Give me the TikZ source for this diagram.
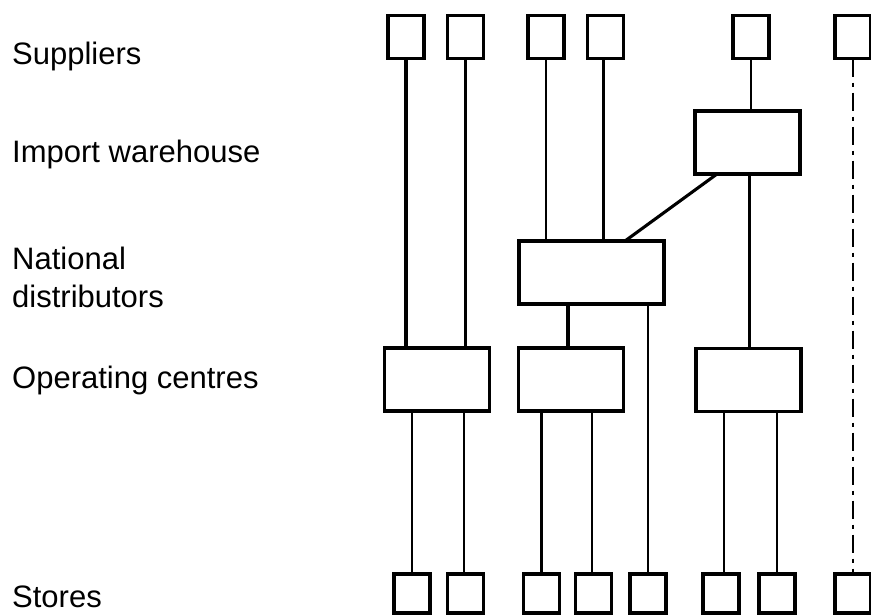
\documentclass[tikz,border=0pt]{standalone}
\usepackage{fontspec}
\setmainfont{Liberation Sans}
\begin{document}
\begin{tikzpicture}[x=1pt,y=-1pt,
  box/.style={draw=black,line width=3.4pt,rectangle,inner sep=0pt,outer sep=0pt},
  smallbox/.style={box,minimum width=36pt,minimum height=43pt},
  storebox/.style={box,minimum width=36pt,minimum height=39pt},
  bigbox/.style={box,minimum width=105pt,minimum height=63pt},
  conn/.style={line width=2.5pt},
  thickconn/.style={line width=3.1pt},
  thinconn/.style={line width=2pt},
  dashconn/.style={line width=2.4pt,dash pattern=on 18pt off 6pt on 4pt off 6pt},
  lbl/.style={anchor=base west,inner sep=0pt,font=\fontsize{31}{38}\selectfont}]
\useasboundingbox (0,0) rectangle (871,616);
% labels
\node[lbl] (lsup) at (12,64) {Suppliers};
\node[lbl] (limp) at (12,162) {Import warehouse};
\node[lbl] (lnat1) at (12,269) {National};
\node[lbl] (lnat2) at (12,307) {distributors};
\node[lbl] (lop) at (12,388) {Operating centres};
\node[lbl] (lst) at (12,607) {Stores};
% suppliers
\node[smallbox] (s1) at (406,37) {};
\node[smallbox] (s2) at (465.5,37) {};
\node[smallbox] (s3) at (546,37) {};
\node[smallbox] (s4) at (605.5,37) {};
\node[smallbox] (s5) at (751,37) {};
\node[smallbox] (s6) at (853,37) {};
% import warehouse
\node[box,minimum width=105pt,minimum height=63pt] (imp) at (747.5,142.5) {};
% national distributors
\node[box,minimum width=145pt,minimum height=63pt] (nat) at (591.5,272.5) {};
% operating centres
\node[bigbox] (opA) at (437,379.5) {};
\node[bigbox] (opB) at (571,379.5) {};
\node[bigbox] (opC) at (748.5,380) {};
% stores
\node[storebox] (t1) at (412,593.5) {};
\node[storebox] (t2) at (465.5,593.5) {};
\node[storebox] (t3) at (541.5,593.5) {};
\node[storebox] (t4) at (593.5,593.5) {};
\node[storebox] (t5) at (648,593.5) {};
\node[storebox] (t6) at (721,593.5) {};
\node[storebox] (t7) at (777,593.5) {};
\node[storebox] (t8) at (853,593.5) {};
% supplier connectors
\draw[thickconn] (s1.south) -- (s1.south |- opA.north);
\draw[thickconn] (s2.south) -- (s2.south |- opA.north);
\draw[thinconn] (s3.south) -- (s3.south |- nat.north);
\draw[conn] ([xshift=-2pt]s4.south) -- ([xshift=-2pt]s4.south |- nat.north);
\draw[thinconn] (s5.south) -- (s5.south |- imp.north);
\draw[dashconn] (s6.south) -- (s6.south |- t8.north);
% import warehouse connectors
\draw[thickconn] ([xshift=2pt]imp.south) -- ([xshift=2pt]imp.south |- opC.north);
\draw[thickconn] ([xshift=-30.5pt]imp.south) -- ([xshift=33.5pt]nat.north);
% national distributors connectors
\draw[thickconn] ([xshift=-3pt]opB.north |- nat.south) -- ([xshift=-3pt]opB.north);
\draw[conn] (t5.north |- nat.south) -- (t5.north);
% operating centre connectors
\draw[conn] (t1.north |- opA.south) -- (t1.north);
\draw[conn] ([xshift=-1.5pt]t2.north |- opA.south) -- ([xshift=-1.5pt]t2.north);
\draw[conn] (t3.north |- opB.south) -- (t3.north);
\draw[conn] ([xshift=-1.5pt]t4.north |- opB.south) -- ([xshift=-1.5pt]t4.north);
\draw[thinconn] ([xshift=3pt]t6.north |- opC.south) -- ([xshift=3pt]t6.north);
\draw[conn] (t7.north |- opC.south) -- (t7.north);
\end{tikzpicture}
\end{document}
